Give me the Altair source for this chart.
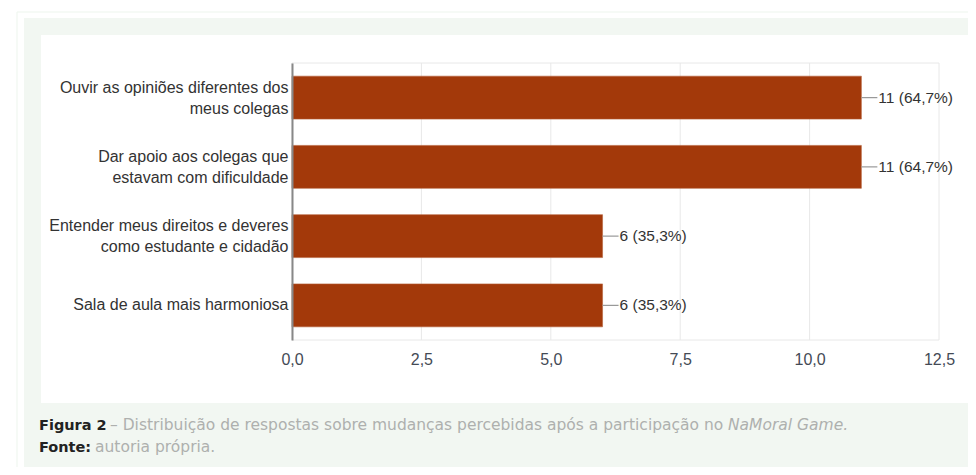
import altair as alt
import pandas as pd

categories = [
    "Ouvir as opiniões diferentes dos\nmeus colegas",
    "Dar apoio aos colegas que\nestavam com dificuldade",
    "Entender meus direitos e deveres\ncomo estudante e cidadão",
    "Sala de aula mais harmoniosa",
]
counts = [11, 11, 6, 6]
percents = ["64,7%", "64,7%", "35,3%", "35,3%"]
x_ticks = [0, 2.5, 5, 7.5, 10, 12.5]

caption_bold = "Figura 2"
caption_text = "– Distribuição de respostas sobre mudanças percebidas após a participação no"
caption_italic = "NaMoral Game"
source_bold = "Fonte:"
source_text = "autoria própria."

df = pd.DataFrame({"cat": categories, "n": counts, "pct": percents})
df["label"] = [f"{n} ({p})" for n, p in zip(counts, percents)]
ticks_df = pd.DataFrame({"t": x_ticks})

one = alt.Data(values=[{"a": 1}])
GREEN = "#f2f7f2"
GRID = "#e8e8e8"

outer_frame = alt.Chart(one).mark_rect(fill="white", stroke="#edf5ed", strokeWidth=1).encode(
    x=alt.value(-275), x2=alt.value(700), y=alt.value(-51), y2=alt.value(450))
panel = alt.Chart(one).mark_rect(fill=GREEN).encode(
    x=alt.value(-268), x2=alt.value(700), y=alt.value(-45), y2=alt.value(409))
inner = alt.Chart(one).mark_rect(fill="white").encode(
    x=alt.value(-251), x2=alt.value(700), y=alt.value(-28), y2=alt.value(340))

xscale = alt.Scale(domain=[0, 12.5], nice=False)

grid = alt.Chart(ticks_df).mark_rule(color=GRID, strokeWidth=1).encode(
    x=alt.X("t:Q", scale=xscale, title=None))
frame_top = alt.Chart(one).mark_rule(color=GRID, strokeWidth=1).encode(
    x=alt.value(0), x2=alt.value(647), y=alt.value(0))
frame_bot = alt.Chart(one).mark_rule(color=GRID, strokeWidth=1).encode(
    x=alt.value(0), x2=alt.value(647), y=alt.value(277))

y_enc = alt.Y("cat:N", sort=None, title=None,
              scale=alt.Scale(paddingInner=0.38, paddingOuter=0.19),
              axis=alt.Axis(labelExpr="split(datum.label, '\\n')", labelFont="Liberation Sans",
                            labelFontSize=16, labelColor="#333333", labelLineHeight=21,
                            labelOffset={"condition": {"test": "indexof(datum.label, '\\n') >= 0",
                                                       "value": -10}, "value": 0},
                            labelPadding=4, ticks=False, domain=True, domainColor="#888888",
                            domainWidth=2, labelLimit=400, grid=False, zindex=2))

bars = alt.Chart(df).mark_bar(color="#a3390a", stroke="#b5613a", strokeWidth=0.6).encode(
    x=alt.X("n:Q", title=None, scale=xscale,
            axis=alt.Axis(values=x_ticks, labelExpr="replace(format(datum.value, '.1f'), '.', ',')",
                          labelFont="Liberation Sans", labelFontSize=16, labelColor="#444a55",
                          labelPadding=11, labelFlush=False, ticks=False, domain=False,
                          grid=False, zindex=2)),
    y=y_enc,
)

leaders = alt.Chart(df).mark_rule(color="#999999", strokeWidth=1.2, x2Offset=16).encode(
    x="n:Q", x2="n:Q", y=alt.Y("cat:N", sort=None, bandPosition=0.5))

labels = alt.Chart(df).mark_text(align="left", baseline="middle", dx=17, font="Liberation Sans",
                                 fontSize=15.5, color="#333333").encode(
    x="n:Q", y=alt.Y("cat:N", sort=None), text="label:N")

cap_font = "DejaVu Sans"
LIGHT = "#aeb0ae"
cap1 = alt.Chart(one).mark_text(align="left", baseline="alphabetic", font=cap_font, fontSize=14.5,
                                fontWeight="bold", color="#222222").encode(
    x=alt.value(-253), y=alt.value(367), text=alt.value(caption_bold))
cap2 = alt.Chart(one).mark_text(align="left", baseline="alphabetic", font=cap_font, fontSize=15.5,
                                fontWeight="normal", color=LIGHT).encode(
    x=alt.value(-182), y=alt.value(367), text=alt.value(caption_text))
cap3 = alt.Chart(one).mark_text(align="left", baseline="alphabetic", font=cap_font, fontSize=15.5,
                                fontWeight="normal", fontStyle="italic", color=LIGHT).encode(
    x=alt.value(436), y=alt.value(367), text=alt.value(caption_italic + "."))
src1 = alt.Chart(one).mark_text(align="left", baseline="alphabetic", font=cap_font, fontSize=14.5,
                                fontWeight="bold", color="#222222").encode(
    x=alt.value(-253), y=alt.value(389), text=alt.value(source_bold))
src2 = alt.Chart(one).mark_text(align="left", baseline="alphabetic", font=cap_font, fontSize=15.5,
                                fontWeight="normal", color=LIGHT).encode(
    x=alt.value(-197), y=alt.value(389), text=alt.value(source_text))

chart = alt.layer(outer_frame, panel, inner, grid, frame_top, frame_bot, bars, leaders, labels,
                  cap1, cap2, cap3, src1, src2).properties(
    width=647, height=277,
    padding={"left": 284, "top": 55, "right": 29, "bottom": 127},
    autosize=alt.AutoSizeParams(type="none"),
    background="white",
).configure_view(stroke=None)

chart.save("out.html", embed_options={"renderer": "svg", "actions": False})
